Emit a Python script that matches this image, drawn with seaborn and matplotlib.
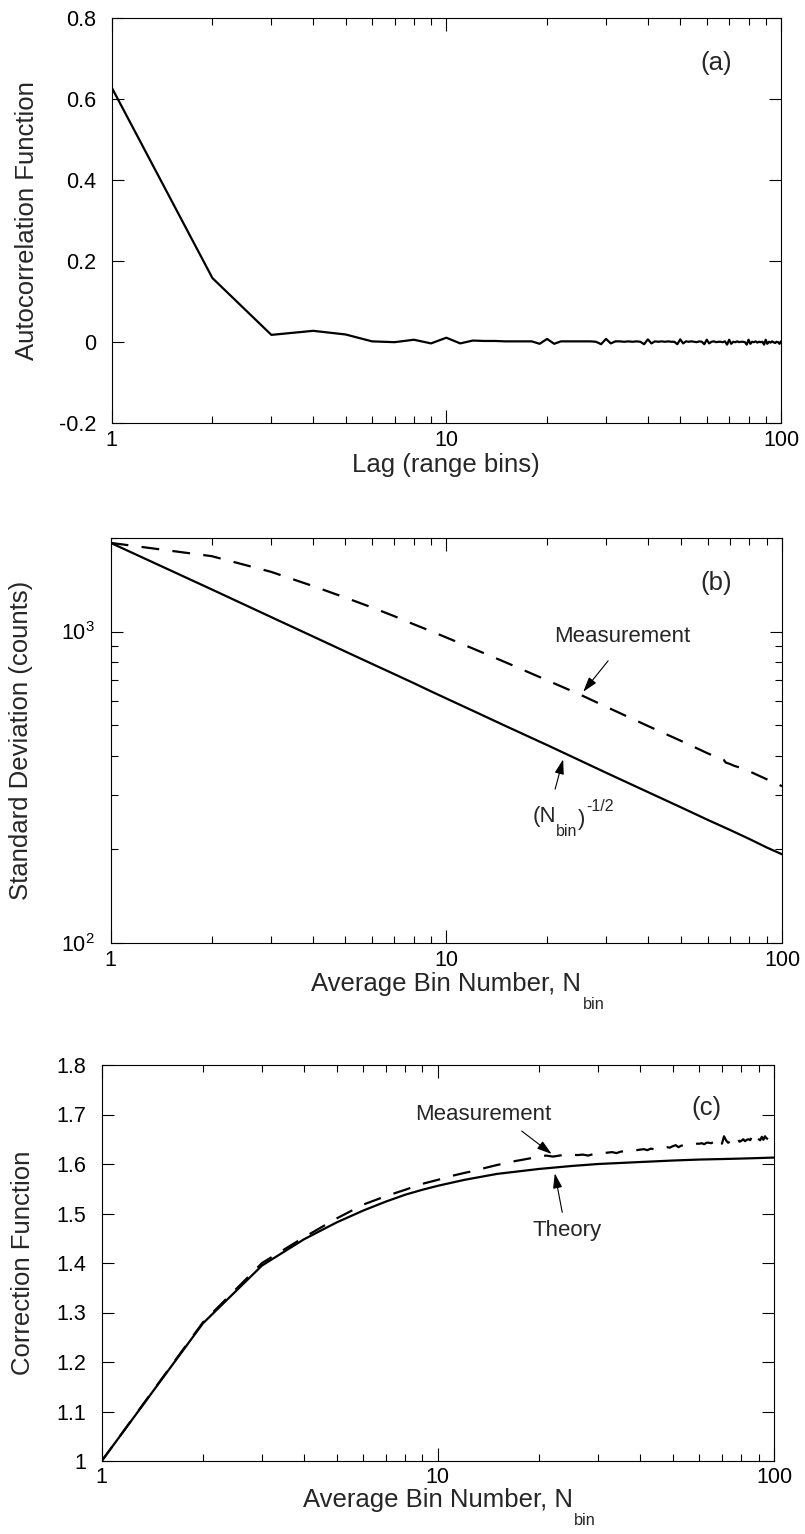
import numpy as np
import matplotlib
matplotlib.use("Agg")
import matplotlib.pyplot as plt
import seaborn as sns
from matplotlib.ticker import FuncFormatter, NullFormatter, LogLocator, MultipleLocator

# ---------------- data ----------------
lags = np.arange(1, 101)
acf = [0.628, 0.158, 0.018, 0.028, 0.019, 0.002, 0.000, 0.006, -0.003, 0.011,
       -0.003, 0.004, 0.003, 0.003, 0.002, 0.002, 0.002, 0.002, -0.004, 0.008,
       -0.004, 0.002, 0.002, 0.002, 0.002, 0.002, 0.002, 0.001, -0.005, 0.008,
       -0.003, 0.002, 0.002, 0.001, 0.002, 0.001, 0.002, 0.001, -0.005, 0.007,
       -0.003, 0.002, 0.001, 0.002, 0.001, 0.002, 0.001, 0.001, -0.005, 0.007,
       -0.003, 0.002, 0.001, 0.002, 0.001, 0.000, 0.002, 0.001, -0.005, 0.006,
       -0.003, 0.001, 0.002, 0.000, 0.001, 0.001, 0.000, 0.002, -0.006, 0.006,
       -0.004, 0.001, 0.000, 0.002, 0.000, 0.001, 0.001, 0.000, -0.006, 0.006,
       -0.004, 0.001, 0.000, 0.002, -0.001, 0.001, 0.000, 0.001, -0.006, 0.006,
       -0.004, 0.001, -0.001, 0.002, 0.000, -0.002, 0.001, 0.000, -0.004, 0.002]

nbin_b = [1, 2, 3, 4, 5, 6, 7, 8, 9, 10, 12, 15, 20, 25, 30, 40, 50, 60, 70, 80, 90, 100]
std_theory = [1925, 1365, 1114, 965, 863, 788, 730, 683, 643, 610, 557, 498, 432,
              386, 352, 305, 273, 249, 231, 216, 203, 193]
nbin_b_meas = [1, 2, 3, 4, 5, 6, 7, 8, 9, 10, 12, 15, 20, 25, 30, 40, 50, 60, 65,
               67, 68, 70, 72, 75, 80, 90, 95, 100]
std_meas = [1925, 1745, 1555, 1400, 1285, 1195, 1120, 1055, 1003, 957, 882, 797,
            697, 628, 573, 497, 446, 407, 392, 388, 380, 376, 371, 366, 356, 336,
            328, 319]

nbin_c = [1, 2, 3, 4, 5, 6, 7, 8, 9, 10, 12, 15, 20, 25, 30, 40, 50, 60, 70, 80, 90, 100]
corr_theory = [1.000, 1.278, 1.395, 1.448, 1.482, 1.506, 1.524, 1.538, 1.548, 1.556,
               1.568, 1.580, 1.590, 1.596, 1.600, 1.604, 1.607, 1.609, 1.610, 1.611,
               1.612, 1.613]
nbin_c_meas = np.arange(1, 101)
corr_meas = [1.000, 1.280, 1.400, 1.452, 1.490, 1.518, 1.535, 1.548, 1.560, 1.568,
             1.576, 1.582, 1.587, 1.593, 1.598, 1.602, 1.606, 1.609, 1.612, 1.615,
             1.617, 1.615, 1.617, 1.619, 1.619, 1.618, 1.619, 1.617, 1.620, 1.621,
             1.622, 1.623, 1.624, 1.622, 1.625, 1.626, 1.627, 1.628, 1.628, 1.629,
             1.630, 1.628, 1.631, 1.630, 1.632, 1.633, 1.634, 1.634, 1.633, 1.636,
             1.638, 1.634, 1.637, 1.638, 1.639, 1.639, 1.640, 1.640, 1.641, 1.641,
             1.642, 1.640, 1.643, 1.643, 1.642, 1.644, 1.643, 1.640, 1.648, 1.641,
             1.656, 1.648, 1.643, 1.645, 1.646, 1.641, 1.648, 1.651, 1.645, 1.647,
             1.650, 1.646, 1.649, 1.650, 1.648, 1.657, 1.650, 1.646, 1.652, 1.650,
             1.648, 1.655, 1.649, 1.656, 1.652, 1.650, 1.653, 1.648, 1.655, 1.656]

# ---------------- style ----------------
sns.set_theme(style="ticks")
plt.rcParams["font.family"] = ["Liberation Sans", "DejaVu Sans"]
plt.rcParams["mathtext.fontset"] = "custom"
plt.rcParams["mathtext.rm"] = "Liberation Sans"
plt.rcParams["mathtext.it"] = "Liberation Sans:italic"
plt.rcParams["mathtext.bf"] = "Liberation Sans:bold"
plt.rcParams["axes.linewidth"] = 0.8
plt.rcParams["axes.edgecolor"] = "black"

TICK_FS = 15.5
LABEL_FS = 18.5
ANN_FS = 16

W, H = 805, 1534
fig = plt.figure(figsize=(W / 100, H / 100), dpi=100)


def add(x0, x1, top, bot):
    return fig.add_axes([x0 / W, 1 - bot / H, (x1 - x0) / W, (bot - top) / H])


axa = add(111.7, 781, 17.7, 423.3)
axb = add(110.7, 782, 537.7, 943.3)
axc = add(101.7, 774, 1065, 1461)

fmt_g = FuncFormatter(lambda v, p: f"{v:g}")
DASH = (0, (8, 6))

for ax in (axa, axb, axc):
    ax.set_xscale("log")
    ax.set_xlim(1, 100)
    ax.xaxis.set_major_locator(LogLocator(base=10, numticks=10))
    ax.xaxis.set_minor_locator(LogLocator(base=10, subs=np.arange(2, 10), numticks=20))
    ax.xaxis.set_major_formatter(fmt_g)
    ax.xaxis.set_minor_formatter(NullFormatter())
    ax.tick_params(which="both", direction="in", top=True, right=True,
                   color="black", width=0.8, labelsize=TICK_FS, labelcolor="black")
    ax.tick_params(axis="x", which="major", length=9.5, pad=4.5)
    ax.tick_params(axis="x", which="minor", length=5)
    ax.tick_params(axis="y", which="major", length=8.5, pad=11.3)
    ax.tick_params(axis="y", which="minor", length=5)
    ax.set_facecolor("white")

# ---------------- (a) ----------------
sns.lineplot(x=lags, y=acf, ax=axa, color="black", lw=1.6, estimator=None)
axa.set_ylim(-0.2, 0.8)
axa.yaxis.set_major_locator(MultipleLocator(0.2))
axa.yaxis.set_major_formatter(FuncFormatter(lambda v, p: f"{round(v, 1):g}"))
axa.set_xlabel("Lag (range bins)", fontsize=LABEL_FS)
axa.set_ylabel("Autocorrelation Function", fontsize=LABEL_FS)
axa.yaxis.set_label_coords(-0.109, 0.5)
axa.xaxis.set_label_coords(0.5, -0.073)
axa.text(0.903, 0.8876, "(a)", transform=axa.transAxes, fontsize=18.5,
         ha="center", va="center")

# ---------------- (b) ----------------
sns.lineplot(x=nbin_b, y=std_theory, ax=axb, color="black", lw=1.6, estimator=None)
sns.lineplot(x=nbin_b_meas, y=std_meas, ax=axb, color="black", lw=1.6,
             estimator=None, linestyle=DASH)
axb.set_yscale("log")
axb.set_ylim(100, 2000)
axb.yaxis.set_major_locator(LogLocator(base=10, numticks=10))
axb.yaxis.set_minor_locator(LogLocator(base=10, subs=np.arange(2, 10), numticks=20))
axb.yaxis.set_major_formatter(
    FuncFormatter(lambda v, p: r"$\mathregular{10^{%d}}$" % round(np.log10(v))))
axb.yaxis.set_minor_formatter(NullFormatter())
axb.set_xlabel("Average Bin Number, N", fontsize=LABEL_FS)
axb.set_ylabel("Standard Deviation (counts)", fontsize=LABEL_FS)
axb.yaxis.set_label_coords(-0.1157, 0.5)
axb.xaxis.set_label_coords(0.5, -0.070)
axb.text(0.9027, 0.8876, "(b)", transform=axb.transAxes, fontsize=18.5,
         ha="center", va="center")

arrow_kw = dict(arrowstyle="-|>,head_length=0.9,head_width=0.28", color="black",
                lw=0.8, shrinkA=0, shrinkB=0, mutation_scale=10)
axb.annotate("", xy=(0.704, 0.6203), xytext=(0.741, 0.6965),
             xycoords="axes fraction", textcoords="axes fraction", arrowprops=arrow_kw)
axb.text(0.7617, 0.756, "Measurement", transform=axb.transAxes, fontsize=ANN_FS,
         ha="center", va="center")
axb.annotate("", xy=(0.674, 0.4536), xytext=(0.662, 0.380),
             xycoords="axes fraction", textcoords="axes fraction", arrowprops=arrow_kw)
# "(N_bin)^-1/2" built from plain text pieces
t1 = axb.text(0.628, 0.300, "(N", transform=axb.transAxes, fontsize=ANN_FS,
              ha="left", va="baseline")
t2 = axb.annotate("bin", xy=(1, 0), xycoords=t1, xytext=(0.3, -6.5),
                  textcoords="offset points", fontsize=11.5, ha="left", va="baseline")
t3 = axb.annotate(")", xy=(1, 0), xycoords=t2, xytext=(0.3, 6.5 - 0.0),
                  textcoords="offset points", fontsize=ANN_FS, ha="left", va="bottom")
axb.annotate("-1/2", xy=(1, 1), xycoords=t3, xytext=(0.3, -4),
             textcoords="offset points", fontsize=11.5, ha="left", va="bottom")

# ---------------- (c) ----------------
sns.lineplot(x=nbin_c, y=corr_theory, ax=axc, color="black", lw=1.6, estimator=None)
sns.lineplot(x=nbin_c_meas, y=corr_meas, ax=axc, color="black", lw=1.6,
             estimator=None, linestyle=DASH)
axc.set_ylim(1.0, 1.8)
axc.yaxis.set_major_locator(MultipleLocator(0.1))
axc.yaxis.set_major_formatter(FuncFormatter(lambda v, p: f"{round(v, 1):g}"))
axc.set_xlabel("Average Bin Number, N", fontsize=LABEL_FS)
axc.set_ylabel("Correction Function", fontsize=LABEL_FS)
axc.yaxis.set_label_coords(-0.0986, 0.5)
axc.xaxis.set_label_coords(0.5, -0.068)
axc.text(0.900, 0.8907, "(c)", transform=axc.transAxes, fontsize=18.5,
         ha="center", va="center")
axc.annotate("", xy=(0.6693, 0.7753), xytext=(0.6247, 0.8333),
             xycoords="axes fraction", textcoords="axes fraction", arrowprops=arrow_kw)
axc.text(0.5676, 0.8755, "Measurement", transform=axc.transAxes, fontsize=ANN_FS,
         ha="center", va="center")
axc.annotate("", xy=(0.674, 0.7265), xytext=(0.685, 0.628),
             xycoords="axes fraction", textcoords="axes fraction", arrowprops=arrow_kw)
axc.text(0.6917, 0.5833, "Theory", transform=axc.transAxes, fontsize=ANN_FS,
         ha="center", va="center")

# subscript "bin" after the N of the x labels
for ax in (axb, axc):
    ax.annotate("bin", xy=(1, 0), xycoords=ax.xaxis.label,
                xytext=(0.8, -0.8), textcoords="offset points",
                ha="left", va="top", fontsize=11.7)

for ax in (axa, axb, axc):
    for s in ax.spines.values():
        s.set_visible(True)
        s.set_color("black")
        s.set_linewidth(0.8)

fig.savefig("out.png", dpi=100, facecolor="white")
